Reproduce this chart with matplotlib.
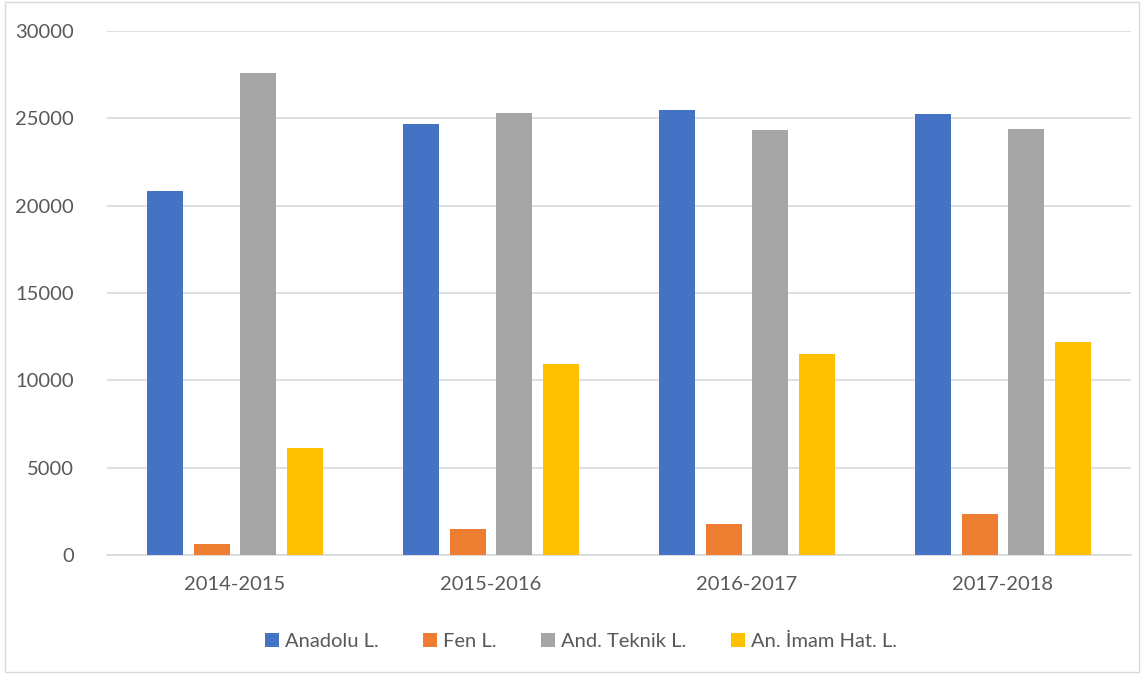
import matplotlib.pyplot as plt
import numpy as np
from matplotlib.patches import Rectangle

plt.rcParams['font.family'] = ['Lato', 'DejaVu Sans']

years = ['2014-2015', '2015-2016', '2016-2017', '2017-2018']
series = ['Anadolu L.', 'Fen L.', 'And. Teknik L.', 'An. İmam Hat. L.']
anadolu = [20850, 24670, 25470, 25240]
fen = [650, 1510, 1800, 2370]
teknik = [27600, 25280, 24360, 24380]
imam_hatip = [6130, 10920, 11500, 12200]
colors = ['#4472c4', '#ed7d31', '#a5a5a5', '#ffc000']

fig = plt.figure(figsize=(11.44, 6.74), dpi=100)
ax = fig.add_axes([0.0935, 0.1766, 0.8951, 0.7774])

x = np.arange(len(years))
step = 0.182
width = 0.141
for j, (vals, name) in enumerate(zip([anadolu, fen, teknik, imam_hatip], series)):
    ax.bar(x + (j - 1.5) * step, vals, width, color=colors[j], label=name, zorder=3)

ax.set_xlim(-0.5, 3.5)
ax.set_ylim(0, 30000)
ax.set_yticks(range(0, 30001, 5000))
ax.set_xticks(x)
ax.set_xticklabels(years)
ax.grid(axis='y', color='#d9d9d9', linewidth=1.2, zorder=0)
for s in ['top', 'right', 'left']:
    ax.spines[s].set_visible(False)
ax.spines['bottom'].set_color('#d9d9d9')
ax.spines['bottom'].set_linewidth(1.2)
ax.tick_params(length=0, labelsize=14.5, colors='#595959')
ax.tick_params(axis='x', pad=15)
ax.tick_params(axis='y', pad=24)

leg = fig.legend(loc='center', bbox_to_anchor=(0.508, 0.048), ncol=4, frameon=False,
                 fontsize=14.5, handlelength=0.7, handleheight=0.7, handletextpad=0.3,
                 columnspacing=2.2)
for t in leg.get_texts():
    t.set_color('#595959')

fig.patches.append(Rectangle((0.004, 0.003), 0.992, 0.994, transform=fig.transFigure,
                             fill=False, edgecolor='#d9d9d9', linewidth=1))

fig.savefig('out.png', dpi=100)
